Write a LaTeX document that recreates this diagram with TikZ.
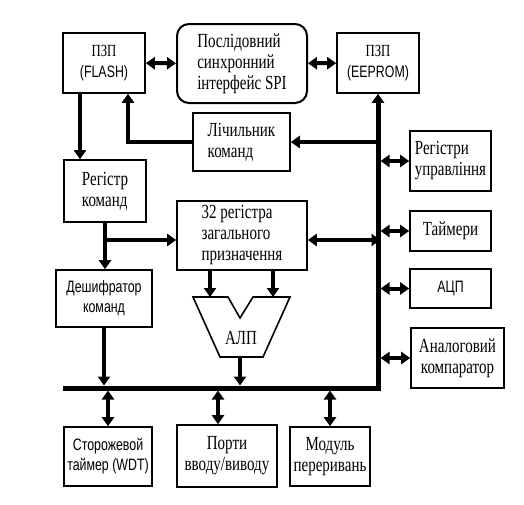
\documentclass[tikz,border=0pt]{standalone}
\usepackage{fontspec}
\setmainfont[FakeStretch=0.75]{Liberation Serif}
\setsansfont[FakeStretch=0.75]{Liberation Sans}
\usetikzlibrary{arrows.meta,calc}

\begin{document}
\begin{tikzpicture}[x=1pt,y=-1pt,
  blok/.style={draw,line width=1.6pt,inner sep=1pt,font=\fontsize{20}{21}\selectfont},
  sblok/.style={blok,align=center,font=\sffamily\fontsize{16.5}{20}\selectfont},
  shyna/.style={line width=4pt,-{Triangle[length=9pt,width=12pt]}},
  dvi/.style={line width=4pt,{Triangle[length=9pt,width=12pt]}-{Triangle[length=9pt,width=12pt]}}]

  \useasboundingbox (0,0) rectangle (524,504);

  \node[blok,align=center,minimum width=82,minimum height=60] (flash) at (104,63)
    {\fontsize{17}{21}\selectfont ПЗП\\\sffamily\fontsize{16.5}{21}\selectfont(FLASH)};
  \node[blok,align=left,rounded corners=12pt,line width=2pt,minimum width=130,minimum height=79] (spi) at (242,63.5)
    {Послідовний\\синхронний\\інтерфейс SPI};
  \node[blok,align=center,minimum width=82,minimum height=60] (eeprom) at (378,63)
    {\fontsize{17}{21}\selectfont ПЗП\\\sffamily\fontsize{16.5}{21}\selectfont(EEPROM)};
  \node[blok,align=left,minimum width=97,minimum height=58] (pc) at (241.5,142) {Лічильник\\команд};
  \node[blok,align=left,minimum width=82,minimum height=62] (ir) at (105,191) {Регістр\\команд};
  \node[blok,align=left,minimum width=130,minimum height=69] (gpr) at (242,235.5)
    {32 регістра\\загального\\призначення};
  \node[sblok,minimum width=96,minimum height=57] (dec) at (104,298.5) {Дешифратор\\команд};

  \node[blok,align=left,minimum width=81,minimum height=60] (ctrl) at (450.5,161) {Регістри\\управління};
  \node[blok,minimum width=81,minimum height=40] (tmr) at (450.5,231) {Таймери};
  \node[sblok,minimum width=81,minimum height=39] (adc) at (450.5,288.5) {АЦП};
  \node[blok,align=center,minimum width=93,minimum height=60] (cmp) at (457.5,358) {Аналоговий\\компаратор};

  \node[sblok,minimum width=88,minimum height=59] (wdt) at (108,456.5) {Сторожевой\\таймер (WDT)};
  \node[blok,align=center,minimum width=100,minimum height=62] (io) at (227,456) {Порти\\вводу/виводу};
  \node[blok,align=center,minimum width=80,minimum height=59] (irq) at (330,456.5) {Модуль\\переривань};

  % АЛП
  \coordinate (alu1) at (193,297);
  \coordinate (alu2) at (290,297);
  \coordinate (aluo) at (240,357);
  \draw[line width=1.6pt,line join=miter] (alu1) -- (228,297) -- (240,318) -- (253,297) -- (alu2)
    -- (263,357) -- (220,357) -- cycle;
  \node[font=\fontsize{20}{21}\selectfont] (alu) at (241,338) {АЛП};

  % шина
  \coordinate (busL) at (63,388);
  \draw[shyna,line width=5pt] (busL) -| (eeprom.south);
  \coordinate (gin) at ([yshift=-4.5pt]gpr.west);
  \coordinate (gout) at ([yshift=-4.5pt]gpr.east);

  \draw[dvi] (flash) -- (spi);
  \draw[dvi] (spi) -- (eeprom);
  \draw[shyna] ([xshift=-24pt]flash.south) -- ([xshift=-24pt]flash.south |- ir.north);
  \draw[shyna] (pc.west) -| ([xshift=24pt]flash.south);
  \draw[shyna] (pc.east -| eeprom.south) -- (pc.east);
  \draw[shyna] (ir.south) -- (ir.south |- dec.north);
  \draw[shyna] (ir.south |- gin) -- (gin);
  \draw[dvi] ([xshift=2.5pt]gout -| eeprom.south) -- (gout);
  \draw[shyna] ([xshift=-32pt]gpr.south) -- ([xshift=-32pt]gpr.south |- alu1);
  \draw[shyna] ([xshift=31pt]gpr.south) -- ([xshift=31pt]gpr.south |- alu2);
  \draw[shyna] (aluo) -- ([yshift=2.5pt]aluo |- busL);
  \draw[shyna] (dec.south) -- ([yshift=2.5pt]dec.south |- busL);

  \foreach \n in {ctrl,tmr,adc,cmp}
    \draw[dvi] ([xshift=2.5pt]\n.west -| eeprom.south) -- (\n.west);

  \draw[dvi] ([yshift=-2.5pt]wdt.north |- busL) -- (wdt.north);
  \draw[dvi] ([yshift=-2.5pt,xshift=-9pt]io.north |- busL) -- ([xshift=-9pt]io.north);
  \draw[dvi] ([yshift=-2.5pt]irq.north |- busL) -- (irq.north);
  %\draw[dvi] (busL) -- (63,420);

\end{tikzpicture}
\end{document}
